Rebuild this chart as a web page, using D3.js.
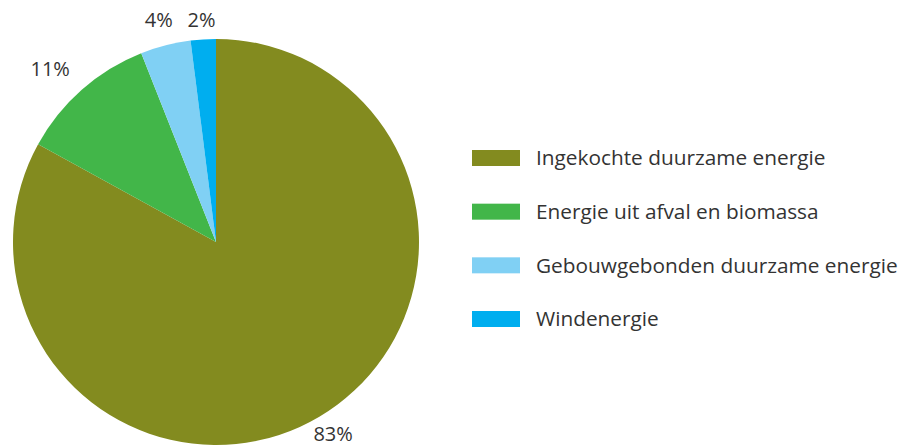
<!DOCTYPE html>
<html><head><meta charset="utf-8">
<script src="https://cdn.jsdelivr.net/npm/d3@7"></script>
<style>
body{margin:0;background:#fff;}
text{font-family:"Open Sans",sans-serif;fill:#333;}
</style></head>
<body><svg id="c" width="902" height="446"></svg>
<script>
const categories = ["Ingekochte duurzame energie","Energie uit afval en biomassa","Gebouwgebonden duurzame energie","Windenergie"];
const values = [83, 11, 4, 2];
const labels = ["83%","11%","4%","2%"];
const colors = ["#838B1F","#42B649","#80D0F4","#00AEEF"];

const svg = d3.select("#c");
const cx = 216, cy = 242, r = 203;
const g = svg.append("g").attr("transform",`translate(${cx},${cy})`);
const pie = d3.pie().sort(null).value(d=>d)(values);
const arc = d3.arc().innerRadius(0).outerRadius(r);
g.selectAll("path").data(pie).join("path").attr("d",arc).attr("fill",(d,i)=>colors[i]);
const larc = d3.arc().innerRadius(230).outerRadius(230);
g.selectAll("text.l").data(pie).join("text").attr("class","l")
 .each(function(d){
   const [x,y0] = larc.centroid(d);
   const y = Math.max(20-cy, Math.min(434-cy, y0));
   const mid = (d.startAngle+d.endAngle)/2;
   const s = Math.sin(mid);
   d3.select(this).attr("x", s < -0.5 ? x+6 : x).attr("y", y)
     .attr("text-anchor", s < -0.5 ? "end" : "middle");
 })
 .attr("dy","0.35em")
 .style("font-size","20px")
 .text((d,i)=>labels[i]);

const y = d3.scalePoint().domain(categories).range([158,319]);
const lg = svg.append("g");
const items = lg.selectAll("g").data(categories).join("g").attr("transform",d=>`translate(472,${y(d)})`);
items.append("rect").attr("x",0).attr("y",-8).attr("width",48).attr("height",16).attr("fill",(d,i)=>colors[i]);
items.append("text").attr("x",64).attr("dy","0.35em").style("font-size","20.8px").text(d=>d);
</script></body></html>
